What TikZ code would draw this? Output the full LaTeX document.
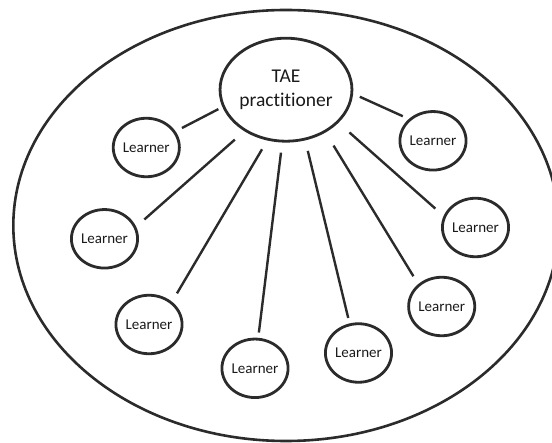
\documentclass[tikz,border=0pt]{standalone}
\usepackage{fontspec}
\setmainfont[Ligatures=NoCommon]{Carlito}
\usetikzlibrary{shapes.geometric}
\definecolor{ink}{HTML}{2B2B2B}
\definecolor{txt}{HTML}{1A1A1A}
\tikzset{
  learner/.style={ellipse, draw=ink, line width=2.8pt, minimum width=66pt, minimum height=58.5pt,
    inner sep=0pt, outer sep=0pt, text=txt, font=\fontsize{15}{18}\selectfont},
  tae/.style={ellipse, draw=ink, line width=2.8pt, minimum width=122pt, minimum height=103pt,
    inner sep=0pt, outer sep=0pt, text=txt, align=center, font=\fontsize{19.5}{23.7}\selectfont},
  link/.style={draw=ink, line width=2.4pt}
}
\begin{document}
\begin{tikzpicture}[x=1pt,y=-1pt]
\useasboundingbox (0,0) rectangle (552,443);
\begin{scope}
\clip (0,0) rectangle (552,443);
\draw[ink, line width=2.6pt] (286,225.5) ellipse [x radius=272.7, y radius=215.5];
\end{scope}
\node[tae] (T) at (286,89.7) {TAE\\practitioner};
\node[learner] (L1) at (146.3,147.5) {Learner};
\node[learner] (L2) at (104.5,238.8) {Learner};
\node[learner] (L3) at (149,324.5) {Learner};
\node[learner] (L4) at (255,368.3) {Learner};
\node[learner] (L5) at (358.5,353) {Learner};
\node[learner] (L6) at (433,140.8) {Learner};
\node[learner] (L7) at (475.5,227.5) {Learner};
\node[learner] (L8) at (441.7,306.5) {Learner};
\draw[link, shorten <=5.9pt, shorten >=8.6pt] (T.195.4) -- (L1.29.2);
\draw[link, shorten <=14.1pt, shorten >=12.4pt] (T.225) -- (L2.20.2);
\draw[link, shorten <=11.7pt, shorten >=11.1pt] (T.250.2) -- (L3.44.2);
\draw[link, shorten <=11.6pt, shorten >=6.7pt] (T.266.6) -- (L4.84.8);
\draw[link, shorten <=12.2pt, shorten >=7pt] (T.291.1) -- (L5.107.9);
\draw[link, shorten <=8.8pt, shorten >=8.2pt] (T.357) -- (L6.137);
\draw[link, shorten <=16pt, shorten >=12.5pt] (T.328.5) -- (L7.161.65);
\draw[link, shorten <=16.7pt, shorten >=10.6pt] (T.313.9) -- (L8.137.4);
\end{tikzpicture}
\end{document}
